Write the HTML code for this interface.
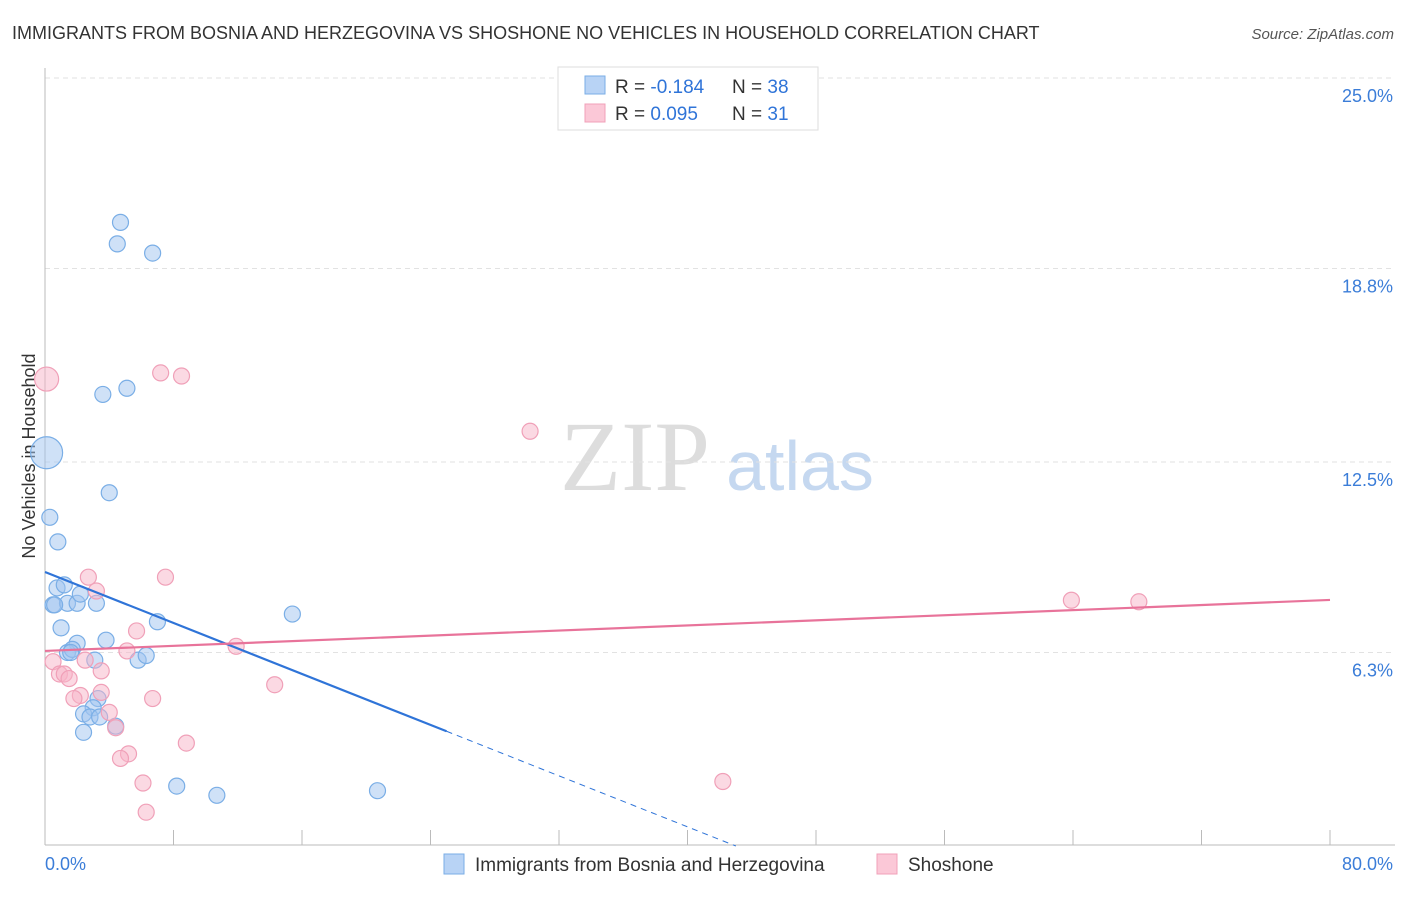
<!DOCTYPE html>
<html><head><meta charset="utf-8"><style>
body{margin:0;background:#fff;font-family:"Liberation Sans",sans-serif;}
svg text{font-family:"Liberation Sans",sans-serif;}
</style></head><body>
<svg id="chart" width="1406" height="892">
<text x="12" y="39" font-size="18" fill="#333">IMMIGRANTS FROM BOSNIA AND HERZEGOVINA VS SHOSHONE NO VEHICLES IN HOUSEHOLD CORRELATION CHART</text>
<text x="1394" y="39" font-size="15" fill="#555" text-anchor="end" font-style="italic">Source: ZipAtlas.com</text>
<text x="35" y="456" font-size="18" fill="#333" text-anchor="middle" transform="rotate(-90 35 456)">No Vehicles in Household</text>
<g><text x="635" y="490" font-size="100" fill="#ddd" text-anchor="middle" font-family="Liberation Serif" style="font-family:'Liberation Serif',serif">ZIP</text><text x="800" y="490" font-size="70" fill="#c5d8f0" text-anchor="middle">atlas</text></g>
<g id="grid"></g><g id="axes"></g><g id="pts"></g><g id="lines"></g>
<g>
<rect x="558" y="67" width="260" height="63" fill="#fff" stroke="#ddd"/>
<rect x="585" y="76" width="20" height="18" fill="#b8d3f5" stroke="#7aaee6"/>
<rect x="585" y="104" width="20" height="18" fill="#fbc8d7" stroke="#f0a0b8"/>
<text x="615" y="93" font-size="19" fill="#333">R = <tspan fill="#2f74d8">-0.184</tspan><tspan x="732">N = </tspan><tspan fill="#2f74d8">38</tspan></text>
<text x="615" y="120" font-size="19" fill="#333">R = <tspan fill="#2f74d8"> 0.095</tspan><tspan x="732">N = </tspan><tspan fill="#2f74d8"> 31</tspan></text>
</g>
<g>
<rect x="444" y="854" width="20" height="20" fill="#b8d3f5" stroke="#7aaee6"/>
<text x="475" y="871" font-size="19" fill="#333">Immigrants from Bosnia and Herzegovina</text>
<rect x="877" y="854" width="20" height="20" fill="#fbc8d7" stroke="#f0a0b8"/>
<text x="908" y="871" font-size="19" fill="#333">Shoshone</text>
</g>
</svg>
<script>
const blueX=[0.1,4.7,4.5,6.7,5.1,3.6,4.0,0.3,0.8,0.75,1.2,0.5,1.4,2.0,2.2,3.2,1.0,7.0,15.4,2.0,3.8,1.4,1.7,3.1,5.8,6.3,3.3,3.0,2.4,2.8,3.4,4.4,2.4,8.2,10.7,20.7,0.6,1.6];
const blueY=[12.8,20.3,19.6,19.3,14.9,14.7,11.5,10.7,9.9,8.4,8.5,7.85,7.9,7.9,8.2,7.9,7.1,7.3,7.55,6.6,6.7,6.3,6.4,6.05,6.05,6.2,4.8,4.5,4.3,4.2,4.2,3.9,3.7,1.95,1.65,1.8,7.85,6.3];
const pinkX=[0.1,7.2,8.5,30.2,2.7,3.2,7.5,63.9,68.1,5.7,11.9,5.1,0.5,2.5,0.9,1.2,1.5,3.5,14.3,2.2,1.8,3.5,6.7,4.0,4.4,8.8,5.2,4.7,6.1,42.2,6.3];
const pinkY=[15.2,15.4,15.3,13.5,8.75,8.3,8.75,8.0,7.95,7.0,6.5,6.35,6.0,6.05,5.6,5.6,5.45,5.7,5.25,4.9,4.8,5.0,4.8,4.35,3.85,3.35,3.0,2.85,2.05,2.1,1.1];
const blueTrend=[8.92,-0.2074];
const pinkTrend=[6.35,0.02075];
const yTicks=[6.3,12.5,18.8,25.0];
const yTickLabels=["6.3%","12.5%","18.8%","25.0%"];
const NS="http://www.w3.org/2000/svg";
const X=v=>45+v*16.0625, Y=v=>846-v*30.72;
function mk(tag,attrs,parent){const e=document.createElementNS(NS,tag);for(const k in attrs)e.setAttribute(k,attrs[k]);document.getElementById(parent).appendChild(e);return e;}
yTicks.forEach((t,i)=>{
 const g=mk('line',{x1:45,x2:1395,y1:Y(t),y2:Y(t),stroke:'#e2e2e2','stroke-dasharray':'5,4'},'grid');
 
 
 const l=mk('text',{x:1393,y:Y(t)+24,'font-size':18,fill:'#3b7dd8','text-anchor':'end'},'grid');l.textContent=yTickLabels[i];
 
 
});
const ax=mk('line',{x1:45,x2:1395,y1:845,y2:845,stroke:'#bbb'},'axes');


const ay=mk('line',{x1:45,x2:45,y1:68,y2:845,stroke:'#bbb'},'axes');


for(let v=0;v<=80;v+=8){const t=mk('line',{x1:X(v),x2:X(v),y1:830,y2:845,stroke:'#bbb'},'axes');
 
 }
const xl0=mk('text',{x:45,y:870,'font-size':18,fill:'#3b7dd8'},'axes');xl0.textContent='0.0%';


const xl1=mk('text',{x:1393,y:870,'font-size':18,fill:'#3b7dd8','text-anchor':'end'},'axes');xl1.textContent='80.0%';


blueX.forEach((x,i)=>{const c=mk('circle',{cx:X(x),cy:Y(blueY[i]),r:i==0?16:8,fill:'rgba(160,196,240,0.5)',stroke:'#7aaee6','stroke-width':1.2},'pts');
 
 });
pinkX.forEach((x,i)=>{const c=mk('circle',{cx:X(x),cy:Y(pinkY[i]),r:i==0?12:8,fill:'rgba(248,180,200,0.5)',stroke:'#f0a0b8','stroke-width':1.2},'pts');
 
 });
const bf=x=>blueTrend[0]+blueTrend[1]*x;
const bl=mk('line',{x1:X(0),y1:Y(bf(0)),x2:X(25),y2:Y(bf(25)),stroke:'#2f74d8','stroke-width':2.2},'lines');


const xEnd=-blueTrend[0]/blueTrend[1];
const bd=mk('line',{x1:X(25),y1:Y(bf(25)),x2:X(xEnd),y2:Y(0),stroke:'#2f74d8','stroke-width':1,'stroke-dasharray':'6,5'},'lines');


const pf=x=>pinkTrend[0]+pinkTrend[1]*x;
const pl=mk('line',{x1:X(0),y1:Y(pf(0)),x2:X(80),y2:Y(pf(80)),stroke:'#e8739a','stroke-width':2.2},'lines');


</script>
</body></html>
